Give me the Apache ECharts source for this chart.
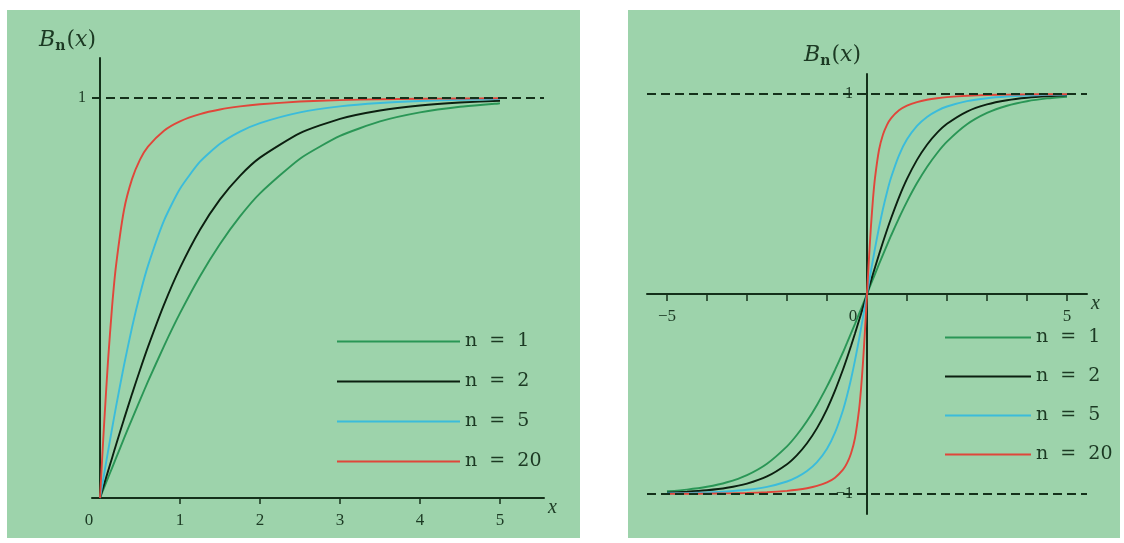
<!DOCTYPE html>
<html>
<head>
<meta charset="utf-8">
<script src="https://cdn.jsdelivr.net/npm/echarts@6/dist/echarts.min.js"></script>
<style>html,body{margin:0;padding:0;background:#fff;}#c{width:1124px;height:543px;}</style>
</head>
<body>
<div id="c"></div>
<script>
// x values (x >= 0) at which the curves were read
const xs = [0, 0.025, 0.05, 0.1, 0.15, 0.2, 0.3, 0.4, 0.5, 0.6, 0.8, 1.0, 1.25, 1.5, 1.75, 2.0, 2.5, 3.0, 3.5, 4.0, 4.5, 5.0];
const bn1  = [0, 0.0125, 0.0250, 0.0500, 0.0749, 0.0997, 0.1489, 0.1974, 0.2449, 0.2913, 0.3799, 0.4621, 0.5546, 0.6351, 0.7039, 0.7616, 0.8483, 0.9051, 0.9414, 0.9640, 0.9780, 0.9866];
const bn2  = [0, 0.0167, 0.0333, 0.0666, 0.0996, 0.1325, 0.1971, 0.2598, 0.3201, 0.3777, 0.4833, 0.5752, 0.6707, 0.7465, 0.8055, 0.8509, 0.9122, 0.9480, 0.9689, 0.9814, 0.9888, 0.9932];
const bn5  = [0, 0.0292, 0.0582, 0.1160, 0.1726, 0.2278, 0.3320, 0.4262, 0.5092, 0.5809, 0.6935, 0.7732, 0.8407, 0.8854, 0.9159, 0.9374, 0.9642, 0.9790, 0.9875, 0.9925, 0.9955, 0.9973];
const bn20 = [0, 0.0912, 0.1800, 0.3422, 0.4761, 0.5803, 0.7200, 0.7971, 0.8459, 0.8784, 0.9184, 0.9418, 0.9598, 0.9713, 0.9790, 0.9843, 0.9911, 0.9948, 0.9969, 0.9981, 0.9989, 0.9993];
const seriesNames = ['n = 1', 'n = 2', 'n = 5', 'n = 20'];
const leftXTicks = [1, 2, 3, 4, 5];
const leftXLabels = [0, 1, 2, 3, 4, 5];
const rightXTicks = [-5, -4, -3, -2, -1, 1, 2, 3, 4, 5];
const rightXLabels = [-5, 0, 5];

const colors = ['#2a9656', '#0c1f10', '#3bbcdb', '#e0463a'];
const ink = '#14301a';
const txt = '#1c3923';
const serif = '"Liberation Serif", "DejaVu Serif", serif';
const dserif = '"DejaVu Serif", "Liberation Serif", serif';
const values = [bn1, bn2, bn5, bn20];

function half(arr) { return xs.map((x, i) => [x, arr[i]]); }
function full(arr) {
  const neg = xs.slice(1).map((x, i) => [-x, -arr[i + 1]]).reverse();
  return neg.concat(xs.map((x, i) => [x, arr[i]]));
}

const nameRich = {
  b: {fontFamily: dserif, fontStyle: 'italic', fontSize: 22, color: txt},
  s: {fontFamily: dserif, fontWeight: 'bold', fontSize: 14, color: txt, verticalAlign: 'bottom', padding: [11, 1, 0, 0]},
  t: {fontFamily: dserif, fontSize: 22, color: txt}
};
const nameStr = '{b|B}{s|n}{t|(}{b|x}{t|)}';

const dash = (val) => ({
  silent: true, symbol: 'none', label: {show: false},
  lineStyle: {color: ink, type: [9, 5], width: 2},
  data: val.map(v => ({yAxis: v}))
});

const series = [];
values.forEach((arr, k) => {
  series.push({
    name: seriesNames[k], type: 'line', xAxisIndex: 0, yAxisIndex: 0,
    data: half(arr), symbol: 'none', smooth: 0.2,
    lineStyle: {color: colors[k], width: 1.9}, itemStyle: {color: colors[k]},
    markLine: k === 0 ? dash([1]) : undefined, z: 3
  });
  series.push({
    name: seriesNames[k], type: 'line', xAxisIndex: 1, yAxisIndex: 1,
    data: full(arr), symbol: 'none', smooth: 0.2,
    lineStyle: {color: colors[k], width: 1.9}, itemStyle: {color: colors[k]},
    markLine: k === 0 ? dash([1, -1]) : undefined, z: 3
  });
});

const legendBase = {
  orient: 'vertical', icon: 'rect', itemHeight: 2, itemGap: 21,
  data: seriesNames, selectedMode: false,
  formatter: name => name.replace(' = ', '  =  '),
  textStyle: {fontFamily: dserif, fontSize: 19, color: txt, lineHeight: 18, padding: [0, 0, 0, 0]}
};

const chart = echarts.init(document.getElementById('c'), null, {renderer: 'canvas'});
chart.setOption({
  animation: false,
  backgroundColor: '#ffffff',
  graphic: [
    {type: 'rect', shape: {x: 7, y: 10, width: 573, height: 528}, style: {fill: '#9dd3ab'}, z: -10, silent: true},
    {type: 'rect', shape: {x: 628, y: 10, width: 492, height: 528}, style: {fill: '#9dd3ab'}, z: -10, silent: true}
  ],
  legend: [
    Object.assign({}, legendBase, {left: 332, top: 327, itemWidth: 123}),
    Object.assign({}, legendBase, {left: 940, top: 323, itemWidth: 86, itemGap: 20})
  ],
  grid: [
    {left: 92, top: 58, width: 452, height: 440, outerBoundsMode: 'none', containLabel: false},
    {left: 647, top: 74, width: 440, height: 440, outerBoundsMode: 'none', containLabel: false}
  ],
  xAxis: [
    {
      type: 'value', gridIndex: 0, min: -0.1, max: 5.55, position: 'bottom',
      name: 'x', nameLocation: 'end', nameGap: 4,
      nameTextStyle: {fontFamily: serif, fontStyle: 'italic', fontSize: 20, color: txt, verticalAlign: 'top', padding: [0, 0, 0, 0]},
      axisLine: {show: true, onZero: false, lineStyle: {color: ink, width: 2}},
      axisTick: {show: true, customValues: leftXTicks, length: 6, lineStyle: {color: ink, width: 1.5}},
      axisLabel: {
        customValues: leftXLabels, margin: 14, fontFamily: serif, fontSize: 17, color: txt,
        formatter: v => v === 0 ? '{z|0}' : String(v),
        rich: {z: {fontFamily: serif, fontSize: 17, color: txt, padding: [0, 22, 0, 0]}}
      },
      splitLine: {show: false}
    },
    {
      type: 'value', gridIndex: 1, min: -5.5, max: 5.5, position: 'bottom', offset: -220,
      name: 'x', nameLocation: 'end', nameGap: 4,
      nameTextStyle: {fontFamily: serif, fontStyle: 'italic', fontSize: 20, color: txt, verticalAlign: 'top', padding: [0, 0, 0, 0]},
      axisLine: {show: true, onZero: false, lineStyle: {color: ink, width: 2}},
      axisTick: {show: true, customValues: rightXTicks, length: 7, lineStyle: {color: ink, width: 1.5}},
      axisLabel: {
        customValues: rightXLabels, margin: 14, fontFamily: serif, fontSize: 17, color: txt,
        formatter: v => v === 0 ? '{z|0}' : (v < 0 ? '\u2212' + Math.abs(v) : String(v)),
        rich: {z: {fontFamily: serif, fontSize: 17, color: txt, padding: [0, 28, 0, 0]}}
      },
      splitLine: {show: false}
    }
  ],
  yAxis: [
    {
      type: 'value', gridIndex: 0, min: 0, max: 1.1, position: 'left', offset: -8,
      name: nameStr, nameLocation: 'end', nameGap: 5,
      nameTextStyle: {align: 'right', padding: [0, 4, 0, 0], rich: nameRich},
      axisLine: {show: true, onZero: false, lineStyle: {color: ink, width: 2}},
      axisTick: {show: true, customValues: [1], length: 6, lineStyle: {color: ink, width: 1.5}},
      axisLabel: {customValues: [1], margin: 14, fontFamily: serif, fontSize: 16, color: txt},
      splitLine: {show: false}
    },
    {
      type: 'value', gridIndex: 1, min: -1.1, max: 1.1, position: 'left', offset: -220,
      name: nameStr, nameLocation: 'end', nameGap: 6,
      nameTextStyle: {align: 'right', padding: [0, 6, 0, 0], rich: nameRich},
      axisLine: {show: true, onZero: false, lineStyle: {color: ink, width: 2}},
      axisTick: {show: true, customValues: [-1, 1], length: 6, lineStyle: {color: ink, width: 1.5}},
      axisLabel: {customValues: [-1, 1], margin: 14, fontFamily: serif, fontSize: 16, color: txt,
        formatter: v => v < 0 ? '\u22121' : '1'},
      splitLine: {show: false}
    }
  ],
  series: series
});
</script>
</body>
</html>
